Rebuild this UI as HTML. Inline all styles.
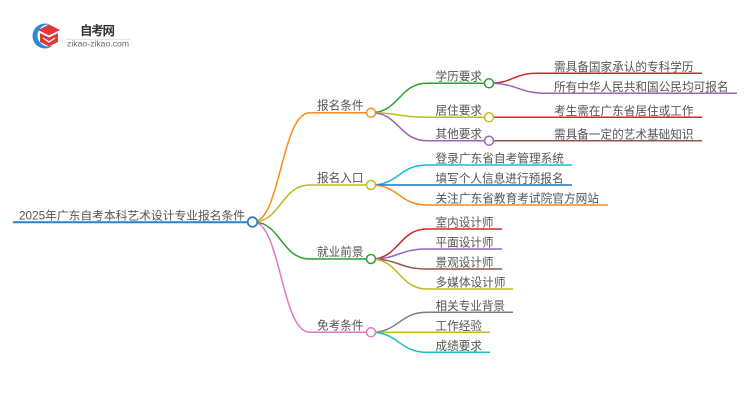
<!DOCTYPE html>
<html><head><meta charset="utf-8"><style>
html,body{margin:0;padding:0;background:#fff;}
svg{display:block;}
text{font-family:"Liberation Sans","Noto Sans CJK SC",sans-serif;fill:#555;font-size:12px;}
</style></head><body>
<svg width="750" height="410" viewBox="0 0 750 410" xmlns="http://www.w3.org/2000/svg">
<defs>
<mask id="cm" maskUnits="userSpaceOnUse" x="0" y="0" width="100" height="80">
<rect x="0" y="0" width="100" height="80" fill="#fff"/>
<circle cx="48.5" cy="35.5" r="11" fill="#000"/>
</mask>
</defs>
<!-- logo -->
<circle cx="45" cy="36" r="12.5" fill="#2a8bd6" mask="url(#cm)"/>
<path d="M49,24.5 L60,30 L49,35.5 L38,30 Z" fill="#e0393b"/>
<path d="M40,33 L40,42 L49,46.5 L58,42 L58,33 L49,37.5 Z" fill="#e0393b"/>
<path d="M43,38 L49,42 L55,38" fill="none" stroke="#fff" stroke-width="1.3"/>
<text x="80" y="35" style="font-size:12.5px;font-weight:bold;fill:#333" textLength="35">自考网</text>
<line x1="66" y1="39.3" x2="131" y2="39.3" stroke="#ddd" stroke-width="0.8"/>
<text x="67" y="46.5" style="font-size:8.6px;fill:#666" textLength="62">zikao-zikao.com</text>

<g fill="none" stroke-width="1.5">
<!-- root -->
<line x1="13" y1="222.3" x2="248" y2="222.3" stroke="#2f7fc1" stroke-width="2"/>
<!-- level 1 curves -->
<path d="M253,222 C281,222 281,112.7 310,112.7 L366,112.7" stroke="#ff8a1e"/>
<path d="M253,222 C281,222 281,185 310,185 L366,185" stroke="#bcbd22"/>
<path d="M253,222 C281,222 281,259 310,259 L366,259" stroke="#2ca02c"/>
<path d="M253,222 C281,222 281,332.3 310,332.3 L366,332.3" stroke="#e377c2"/>
<!-- 报名条件 children -->
<path d="M371,112.7 C399,112.7 399,83.3 427,83.3 L484,83.3" stroke="#2ca02c"/>
<path d="M371,112.7 C399,112.7 399,117.3 427,117.3 L484,117.3" stroke="#bcbd22"/>
<path d="M371,112.7 C399,112.7 399,140.7 427,140.7 L484,140.7" stroke="#9467bd"/>
<!-- 学历 leaves -->
<path d="M489,83.3 C513,83.3 513,73.3 537,73.3 L702,73.3" stroke="#d62728"/>
<path d="M489,83.3 C518,83.3 518,93.3 547,93.3 L737,93.3" stroke="#9467bd"/>
<path d="M489,117.3 L702,117.3" stroke="#d62728"/>
<path d="M489,140.7 L702,140.7" stroke="#8c564b"/>
<!-- 报名入口 leaves -->
<path d="M371,185 C399,185 399,165 427,165 L572,165" stroke="#17becf"/>
<path d="M371,185 L572,185" stroke="#1f77b4"/>
<path d="M371,185 C399,185 399,205 427,205 L608,205" stroke="#ff8a1e"/>
<!-- 就业前景 leaves -->
<path d="M371,259 C399,259 399,229 427,229 L502,229" stroke="#d62728"/>
<path d="M371,259 C399,259 399,249 427,249 L502,249" stroke="#9467bd"/>
<path d="M371,259 C399,259 399,269 427,269 L502,269" stroke="#8c564b"/>
<path d="M371,259 C399,259 399,289 427,289 L513,289" stroke="#bcbd22"/>
<!-- 免考条件 leaves -->
<path d="M371,332.3 C399,332.3 399,312.3 427,312.3 L513,312.3" stroke="#7f7f7f"/>
<path d="M371,332.3 L490,332.3" stroke="#bcbd22"/>
<path d="M371,332.3 C399,332.3 399,352.3 427,352.3 L490,352.3" stroke="#17becf"/>
</g>
<!-- circles -->
<g fill="#fff" stroke-width="1.5">
<circle cx="252.5" cy="222" r="4.8" stroke="#2f7fc1" stroke-width="1.8"/>
<circle cx="371" cy="112.7" r="4.5" stroke="#ff8a1e"/>
<circle cx="371" cy="185" r="4.5" stroke="#bcbd22"/>
<circle cx="371" cy="259" r="4.5" stroke="#2ca02c"/>
<circle cx="371" cy="332.3" r="4.5" stroke="#e377c2"/>
<circle cx="489" cy="83.3" r="4.5" stroke="#2ca02c"/>
<circle cx="489" cy="117.3" r="4.5" stroke="#bcbd22"/>
<circle cx="489" cy="140.7" r="4.5" stroke="#9467bd"/>
</g>
<!-- texts -->
<text x="19" y="219.3" style="font-size:11.5px" textLength="226" lengthAdjust="spacingAndGlyphs">2025年广东自考本科艺术设计专业报名条件</text>
<text x="317" y="109.7" textLength="46.5" lengthAdjust="spacingAndGlyphs">报名条件</text>
<text x="317" y="182" textLength="46.5" lengthAdjust="spacingAndGlyphs">报名入口</text>
<text x="317" y="256" textLength="46.5" lengthAdjust="spacingAndGlyphs">就业前景</text>
<text x="317" y="329.3" textLength="46.5" lengthAdjust="spacingAndGlyphs">免考条件</text>

<text x="435.5" y="80.5" textLength="46.5" lengthAdjust="spacingAndGlyphs">学历要求</text>
<text x="435.5" y="114.5" textLength="46.5" lengthAdjust="spacingAndGlyphs">居住要求</text>
<text x="435.5" y="137.9" textLength="46.5" lengthAdjust="spacingAndGlyphs">其他要求</text>

<text x="554" y="71" textLength="139.5" lengthAdjust="spacingAndGlyphs">需具备国家承认的专科学历</text>
<text x="554" y="91" textLength="174.5" lengthAdjust="spacingAndGlyphs">所有中华人民共和国公民均可报名</text>
<text x="554" y="115" textLength="139.5" lengthAdjust="spacingAndGlyphs">考生需在广东省居住或工作</text>
<text x="554" y="138.4" textLength="139.5" lengthAdjust="spacingAndGlyphs">需具备一定的艺术基础知识</text>

<text x="435.5" y="162.7" textLength="128.5" lengthAdjust="spacingAndGlyphs">登录广东省自考管理系统</text>
<text x="435.5" y="182.7" textLength="128" lengthAdjust="spacingAndGlyphs">填写个人信息进行预报名</text>
<text x="435.5" y="202.7" textLength="163.5" lengthAdjust="spacingAndGlyphs">关注广东省教育考试院官方网站</text>

<text x="435.5" y="226.7" textLength="58" lengthAdjust="spacingAndGlyphs">室内设计师</text>
<text x="435.5" y="246.7" textLength="58" lengthAdjust="spacingAndGlyphs">平面设计师</text>
<text x="435.5" y="266.7" textLength="58" lengthAdjust="spacingAndGlyphs">景观设计师</text>
<text x="435.5" y="286.7" textLength="70" lengthAdjust="spacingAndGlyphs">多媒体设计师</text>

<text x="435.5" y="310" textLength="69.5" lengthAdjust="spacingAndGlyphs">相关专业背景</text>
<text x="435.5" y="330" textLength="46.5" lengthAdjust="spacingAndGlyphs">工作经验</text>
<text x="435.5" y="350" textLength="46.5" lengthAdjust="spacingAndGlyphs">成绩要求</text>
</svg>
</body></html>
